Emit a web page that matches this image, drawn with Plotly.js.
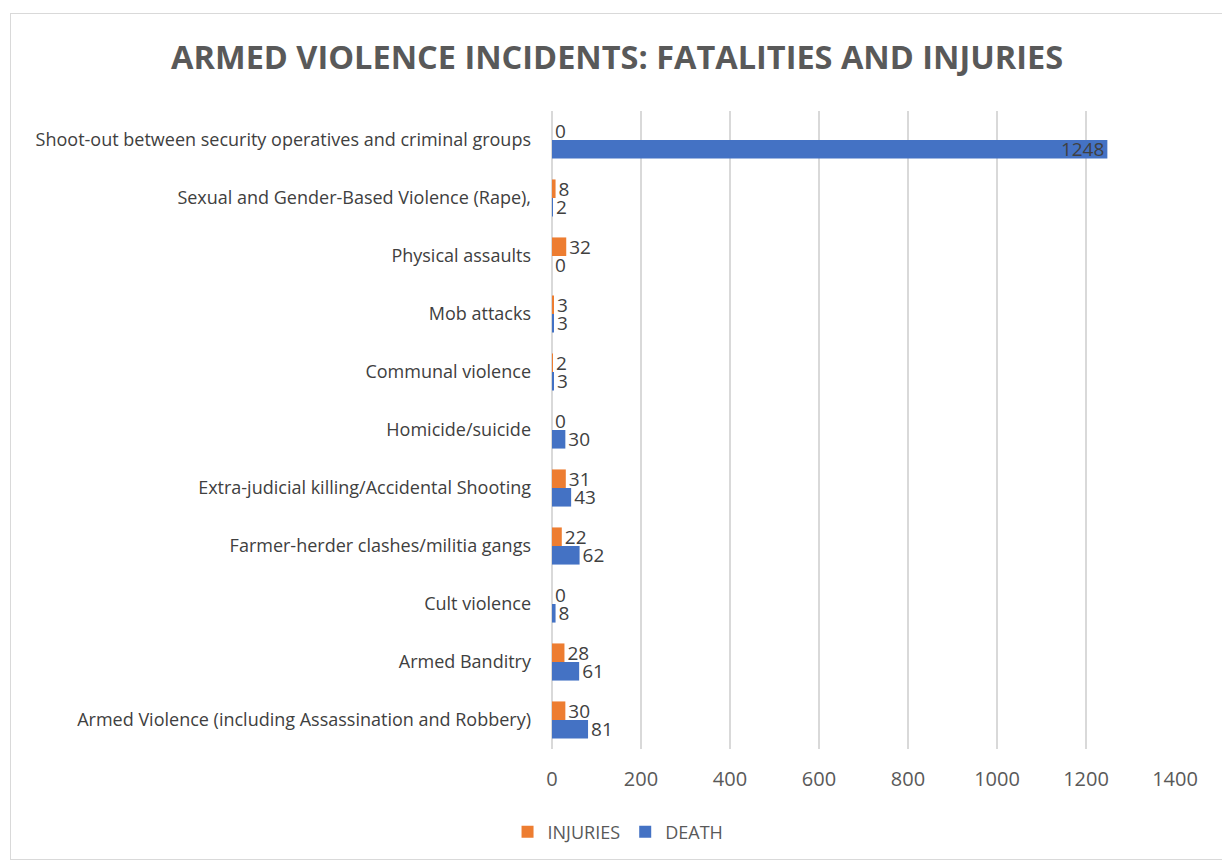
<!DOCTYPE html>
<html>
<head>
<meta charset="utf-8">
<script src="https://cdn.plot.ly/plotly-3.0.1.min.js"></script>
<style>
  html, body { margin: 0; padding: 0; background: #fff; }
  #chart { width: 1222px; height: 861px; }
  #frame { position: absolute; left: 10px; top: 13px; width: 1300px; height: 845px; border: 1px solid #d9d9d9; pointer-events: none; }
</style>
</head>
<body>
<div id="chart"></div>
<div id="frame"></div>
<script>
// Categories listed bottom-to-top (Plotly draws first category at bottom)
const categories = [
  "Armed Violence (including Assassination and Robbery)",
  "Armed Banditry",
  "Cult violence",
  "Farmer-herder clashes/militia gangs",
  "Extra-judicial killing/Accidental Shooting",
  "Homicide/suicide",
  "Communal violence",
  "Mob attacks",
  "Physical assaults",
  "Sexual and Gender-Based Violence (Rape),",
  "Shoot-out between security operatives and criminal groups"
];
const injuries = [30, 28, 0, 22, 31, 0, 2, 3, 32, 8, 0];
const deaths   = [81, 61, 8, 62, 43, 30, 3, 3, 0, 2, 1248];
const xTicks = [0, 200, 400, 600, 800, 1000, 1200, 1400];

const font = "Open Sans, Noto Sans, sans-serif";
const textCol = "#404040";

const deathPos = deaths.map(v => v > 1000 ? "inside" : "outside");

const traces = [
  {
    type: "bar", orientation: "h", name: "DEATH",
    y: categories, x: deaths,
    text: deaths.map(String), textposition: deathPos,
    insidetextanchor: "end", constraintext: "none", textangle: 0,
    textfont: {family: font, size: 19, color: textCol},
    insidetextfont: {family: font, size: 19, color: textCol},
    outsidetextfont: {family: font, size: 19, color: textCol},
    marker: {color: "#4472C4"},
    cliponaxis: false,
    legendrank: 2,
    hoverinfo: "x+y+name"
  },
  {
    type: "bar", orientation: "h", name: "INJURIES",
    y: categories, x: injuries,
    text: injuries.map(String), textposition: "outside",
    constraintext: "none", textangle: 0,
    textfont: {family: font, size: 19, color: textCol},
    outsidetextfont: {family: font, size: 19, color: textCol},
    marker: {color: "#ED7D31"},
    cliponaxis: false,
    legendrank: 1,
    hoverinfo: "x+y+name"
  }
];

const layout = {
  width: 1222, height: 861,
  paper_bgcolor: "rgba(0,0,0,0)", plot_bgcolor: "#ffffff",
  margin: {l: 552, r: 47, t: 111, b: 112, autoexpand: false},
  barmode: "group", bargap: 0.36, bargroupgap: 0,
  title: {
    text: "<b>ARMED VIOLENCE INCIDENTS: FATALITIES AND INJURIES</b>",
    font: {family: font, size: 32.5, color: "#595959"},
    x: 0.505, xanchor: "center", xref: "container",
    y: 0.933, yanchor: "middle"
  },
  xaxis: {
    range: [0, 1400], tickvals: xTicks, ticktext: xTicks.map(String),
    showgrid: true, gridcolor: "#d9d9d9", gridwidth: 2,
    zeroline: true, zerolinecolor: "#d9d9d9", zerolinewidth: 2,
    showline: false, ticks: "", automargin: false, tickangle: 0,
    tickfont: {family: font, size: 20, color: "#595959"},
    ticklabelstandoff: 16,
    fixedrange: true
  },
  yaxis: {
    type: "category", categoryorder: "array", categoryarray: categories,
    showgrid: false, zeroline: false, showline: false, ticks: "",
    automargin: false,
    tickfont: {family: font, size: 18, color: textCol},
    ticklabelstandoff: 20,
    fixedrange: true
  },
  legend: {
    orientation: "h", x: 0.106, xanchor: "center", xref: "paper",
    y: -0.13, yanchor: "middle",
    font: {family: font, size: 18, color: "#595959"},
    itemwidth: 30
  },
  showlegend: true
};

Plotly.newPlot("chart", traces, layout, {displayModeBar: false, staticPlot: false});
</script>
</body>
</html>
